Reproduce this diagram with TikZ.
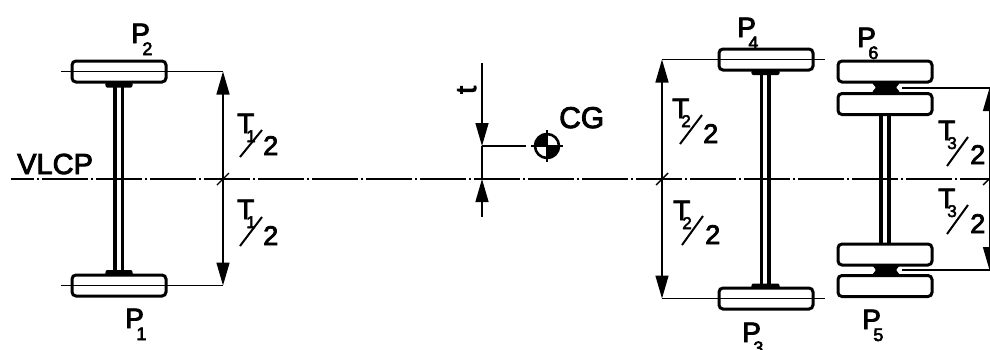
\documentclass[tikz,border=0pt]{standalone}
\usepackage{fontspec}
\setmainfont[FakeBold=3]{Liberation Sans}
\usetikzlibrary{arrows.meta}
\newcommand{\Plab}[1]{\fontsize{28}{28}\selectfont P\kern-7.5pt\raisebox{-12pt}{\fontsize{18}{18}\selectfont #1}}
\newcommand{\Tlab}[1]{\fontsize{28}{28}\selectfont T\kern-8pt\raisebox{-9pt}{\fontsize{17}{17}\selectfont #1}}
\tikzset{
  x=1pt,y=-1pt,
  tyre/.style={draw,line width=3pt,rounded corners=4pt,minimum width=94pt,minimum height=21pt,inner sep=0pt,fill=white},
  tube/.style={line width=3.4pt},
  dimline/.style={line width=1.4pt},
  dimarrow/.style={line width=1.4pt,-{Triangle[length=23pt,width=13pt]}},
  centre/.style={line width=1.8pt,dash pattern=on 46pt off 3pt on 2pt off 3pt,dash phase=23pt},
  hub/.style={fill=black,rounded corners=1pt},
  lab/.style={inner sep=0pt,anchor=base west},
  slash/.style={line width=2pt},
  two/.style={inner sep=0pt,anchor=base west,font=\fontsize{27}{27}\selectfont}
}
\begin{document}
\begin{tikzpicture}
\useasboundingbox (0,0) rectangle (990,349);
\clip (0,0) rectangle (990,349);
% centre line
\coordinate (cl0) at (11,179);
\coordinate (cl1) at (990,179);
% tyres
\node[tyre] (p2) at (119,71.5) {};
\node[tyre] (p1) at (119,285.5) {};
\node[tyre] (p4) at (766,59.5) {};
\node[tyre] (p3) at (766,298.5) {};
\node[tyre] (p6o) at (885,71.5) {};
\node[tyre] (p6i) at (885,104) {};
\node[tyre] (p5i) at (885,254.5) {};
\node[tyre] (p5o) at (885,286) {};
% axles
\foreach \x/\a/\b in {115/p2/p1,122.7/p2/p1,761.5/p4/p3,769/p4/p3,881/p6i/p5i,889/p6i/p5i}{
  \draw[tube] (\x,0 |- \a.south) -- (\x,0 |- \b.north);
}
% hubs
\fill[hub] (105,83) -- (106,87.5) -- (132,87.5) -- (133,83) -- cycle;
\fill[hub] (105,275) -- (106,270) -- (132,270) -- (133,275) -- cycle;
\fill[hub] (751,71) -- (752,75) -- (779,75) -- (780,71) -- cycle;
\fill[hub] (751,288) -- (752,283.5) -- (779,283.5) -- (780,288) -- cycle;
\fill[hub] (872,83) -- (876,87.5) -- (872,92) -- (900,92) -- (896,87.5) -- (900,83) -- cycle;
\fill[hub] (872,265) -- (876,270) -- (872,275) -- (900,275) -- (896,270) -- (900,265) -- cycle;
% centre line on top
\draw[centre] (cl0) -- (cl1);
% tyre centre lines and extension lines
\coordinate (e2) at (223,71.5);
\coordinate (e1) at (223,285.5);
\coordinate (e4) at (662,59.5);
\coordinate (e3) at (662,298.5);
\draw[dimline] (61,71.5) -- (e2);
\draw[dimline] (61,285.5) -- (e1);
\draw[dimline] (e4) -- (825,59.5);
\draw[dimline] (e3) -- (825,298.5);
\coordinate (e6) at (989.5,88);
\coordinate (e5) at (989.5,270);
\draw[dimline] (902,88) -- (e6);
\draw[dimline] (902,270) -- (e5);
% dimension arrows
\coordinate (m1) at (223,179);
\coordinate (m2) at (662,179);
\coordinate (m3) at (989.5,179);
\draw[dimarrow] (m1) -- (e2);
\draw[dimarrow] (m1) -- (e1);
\draw[dimarrow] (m2) -- (e4);
\draw[dimarrow] (m2) -- (e3);
\draw[dimarrow] (m3) -- (e6);
\draw[dimarrow] (m3) -- (e5);
% ticks
\draw[dimline] (217,185) -- (229,173);
\draw[dimline] (656,185) -- (668,173);
\draw[dimline] (983,185) -- (995,173);
% t dimension
\coordinate (t0) at (482,63);
\coordinate (t1) at (482,146);
\coordinate (t2) at (482,179);
\coordinate (t3) at (482,217);
\draw[dimarrow] (t0) -- (t1);
\draw[dimline] (t1) -- (t2);
\draw[dimarrow] (t3) -- (t2);
% CG
\coordinate (cg) at (547,146);
\draw[dimline] (t1) -- (526,146);
\fill[black] (cg) -- ++(13,0) arc[start angle=0,end angle=90,radius=13] -- cycle;
\fill[black] (cg) -- ++(-13,0) arc[start angle=180,end angle=270,radius=13] -- cycle;
\draw[line width=2.6pt] (cg) circle[radius=12];
\draw[line width=1.2pt] (531,146) -- (563,146) (547,130) -- (547,162);
\node[lab,font=\fontsize{30}{30}\selectfont] (cgt) at (559,128) {CG};
\node[inner sep=0pt,anchor=base west,rotate=90,font=\fontsize{29}{29}\selectfont] (tl) at (476,94) {t};
\node[lab,font=\fontsize{29}{29}\selectfont] (vlcp) at (17,174) {VLCP};
% P labels
\node[lab] (lp2) at (131,43) {\Plab{2}};
\node[lab] (lp1) at (125,328) {\Plab{1}};
\node[lab] (lp4) at (737,37) {\Plab{4}};
\node[lab] (lp6) at (857,47) {\Plab{6}};
\node[lab] (lp3) at (742,342) {\Plab{3}};
\node[lab] (lp5) at (862,329) {\Plab{5}};
% T/2 labels
\foreach \n/\s/\tx/\ty/\sx/\sy/\ex/\ey/\dx/\dy in {
 a/1/237/133/240/157/262/130/263/155,
 b/1/237/219/240/246/262/217/263/245,
 c/2/672/118/680/144/702/115/703/143,
 d/2/673/220/682/245/703/216/705/244,
 e/3/938/140/947/166/968/137/970/164,
 f/3/938/208/947/234/968/205/970/233}{
  \node[lab] (T\n) at (\tx,\ty) {\Tlab{\s}};
  \draw[slash] (\sx,\sy) -- (\ex,\ey);
  \node[two] (H\n) at (\dx,\dy) {2};
}
\end{tikzpicture}
\end{document}
